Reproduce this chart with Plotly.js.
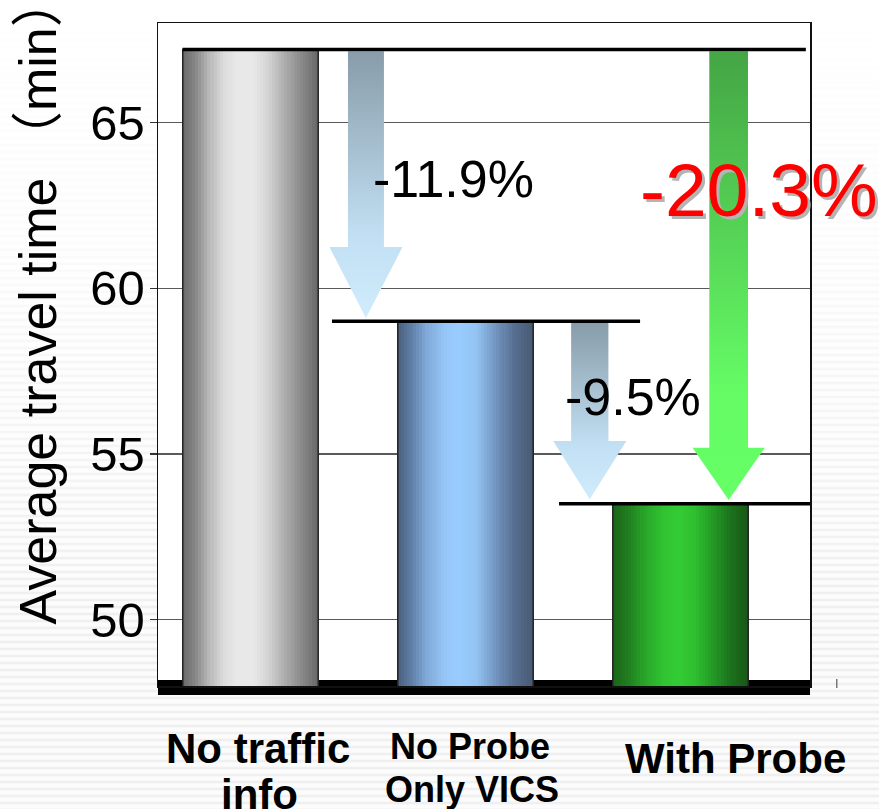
<!DOCTYPE html>
<html><head><meta charset="utf-8">
<script src="https://cdn.plot.ly/plotly-3.0.1.min.js"></script>
<style>
html,body{margin:0;padding:0;width:879px;height:809px;overflow:hidden;}
body{background:
 linear-gradient(180deg, rgba(255,255,255,1) 0%, rgba(255,255,255,0.75) 30%, rgba(255,255,255,0.1) 75%),
 repeating-linear-gradient(180deg,#fcfcfc 0px,#fcfcfc 3px,#e9e9e9 5px,#fcfcfc 7px);}
#chart{position:absolute;left:0;top:0;width:879px;height:809px;}
</style></head><body><div id="chart"></div>
<script>
// ---------- data ----------
const categoryLines = [["No traffic", "info"], ["No Probe", "Only VICS"], ["With Probe"]];
const travelTime = [67.2, 59.0, 53.5];           // average travel time (min)
const reductionLabels = ["-11.9%", "-9.5%", "-20.3%"];
const reductionFrom = [0, 1, 0];
const reductionTo = [1, 2, 2];
const yTicks = [50, 55, 60, 65];
const yTitle = "Average travel time （min）";

// ---------- style / layout constants ----------
const Y_RANGE = [48, 68];
const X_RANGE = [-0.4302, 2.6023];
const BAR_WIDTH = 0.63;
const N_STRIPS = 44;
const FONT = "Liberation Sans, Arial, Helvetica, sans-serif";
const barScales = [
  [[0,"#6a6a6a"],[0.1,"#8a8a8a"],[0.2,"#bababa"],[0.3,"#dcdcdc"],[0.4,"#e8e8e8"],[0.52,"#e8e8e8"],[0.62,"#d6d6d6"],[0.72,"#b8b8b8"],[0.82,"#999999"],[0.92,"#7e7e7e"],[1,"#686868"]],
  [[0,"#4a5f7d"],[0.1,"#5f7ea6"],[0.22,"#82abdb"],[0.35,"#96c6f7"],[0.45,"#99ccff"],[0.58,"#93c3f3"],[0.72,"#7496c2"],[0.86,"#566e90"],[1,"#485a74"]],
  [[0,"#1a641a"],[0.12,"#217f21"],[0.25,"#2aaa2a"],[0.38,"#31c431"],[0.48,"#33cc33"],[0.6,"#30c030"],[0.74,"#249a26"],[0.88,"#1b6f1b"],[1,"#185818"]]
];
const arrowGeom = [ // centre x, shaft half width, head half width, head length (y units), tip gap
  {xc:0.537, sh:0.0837, hh:0.170, hl:2.14, gap:0.10},
  {xc:1.578, sh:0.0867, hh:0.170, hl:1.76, gap:0.13},
  {xc:2.224, sh:0.0900, hh:0.168, hl:1.58, gap:0.11}
];
const arrowScales = [
  [[0,"#d0ecfc"],[0.3,"#c2e0f4"],[1,"#889ca9"]],
  [[0,"#d0ecfc"],[0.3,"#c2e0f4"],[1,"#889ca9"]],
  [[0,"#66ff66"],[0.25,"#65fb65"],[1,"#44a544"]]
];
const levelExtent = [[-0.316, 2.583], [0.379, 1.812], [1.435, 2.61]];
const pctPos = [[0.944, 63.30, 52, "#000000"], [1.777, 56.73, 52, "#000000"], [2.365, 62.95, 75, "#ff0000"]];
const labelPos = [ // x (data), y (paper), size per line
  [[0.0326,-0.0950,42],[0.0419,-0.1637,42]],
  [[1.021,-0.0905,36],[1.028,-0.1561,36]],
  [[2.258,-0.1086,42]]
];

function hexToRgb(h){const n=parseInt(h.slice(1),16);return [(n>>16)&255,(n>>8)&255,n&255];}
function sampleScale(scale,t){
  for(let k=1;k<scale.length;k++){
    if(t<=scale[k][0]){
      const t0=scale[k-1][0], t1=scale[k][0];
      const a=hexToRgb(scale[k-1][1]), b=hexToRgb(scale[k][1]);
      const f=(t-t0)/(t1-t0);
      return "rgb("+a.map((v,j)=>Math.round(v+(b[j]-v)*f)).join(",")+")";
    }
  }
  return scale[scale.length-1][1];
}

const traces = [];
// gradient-filled bars (vertical strips)
travelTime.forEach((v,i)=>{
  const sw = BAR_WIDTH/N_STRIPS, xs=[], ys=[], cs=[];
  for(let k=0;k<N_STRIPS;k++){
    xs.push(i - BAR_WIDTH/2 + (k+0.5)*sw);
    ys.push(v);
    cs.push(sampleScale(barScales[i],(k+0.5)/N_STRIPS));
  }
  traces.push({type:"bar", x:xs, y:ys, width:sw, marker:{color:cs, line:{width:0}},
    hoverinfo:"skip", showlegend:false});
});
// bar outlines (the data bars)
traces.push({type:"bar", x:[0,1,2], y:travelTime, width:BAR_WIDTH,
  hovertext:categoryLines.map(l=>l.join(" ")), textposition:"none",
  marker:{color:"rgba(0,0,0,0)", line:{color:"#222222", width:1.5}}, showlegend:false});
// reduction arrows
reductionFrom.forEach((f,j)=>{
  const g=arrowGeom[j], top=travelTime[f]-0.05, tip=travelTime[reductionTo[j]]+g.gap, hb=tip+g.hl;
  traces.push({type:"scatter", mode:"lines", fill:"toself",
    x:[g.xc-g.sh,g.xc+g.sh,g.xc+g.sh,g.xc+g.hh,g.xc,g.xc-g.hh,g.xc-g.sh,g.xc-g.sh],
    y:[top,top,hb,hb,tip,hb,hb,top],
    line:{width:0,color:"rgba(0,0,0,0)"},
    fillcolor:arrowScales[j][1][1],
    fillgradient:{type:"vertical", colorscale:arrowScales[j]},
    hoverinfo:"skip", showlegend:false});
});
// level lines at bar tops
travelTime.forEach((v,i)=>{
  traces.push({type:"scatter", mode:"lines", x:levelExtent[i], y:[v,v],
    line:{color:"#000000", width:3.5}, hoverinfo:"skip", showlegend:false});
});

const annotations = [];
// y title
annotations.push({xref:"paper", yref:"paper", x:-0.1833, y:0.5822, xanchor:"center", yanchor:"middle",
  text:yTitle, textangle:-90, showarrow:false,
  font:{family:"Liberation Sans, Noto Sans CJK JP, sans-serif", size:52, color:"#000"}});
// percent labels
reductionLabels.forEach((t,j)=>{
  const p=pctPos[j];
  if(j===2){
    annotations.push({xref:"x", yref:"y", x:p[0], y:p[1], text:t, showarrow:false, xshift:3, yshift:-3,
      xanchor:"center", yanchor:"middle", font:{family:FONT, size:p[2], color:"#b4b4b4"}});
  }
  annotations.push({xref:"x", yref:"y", x:p[0], y:p[1], text:t, showarrow:false,
    xanchor:"center", yanchor:"middle", font:{family:FONT, size:p[2], color:p[3]}});
});
// category labels
categoryLines.forEach((lines,i)=>{
  lines.forEach((ln,k)=>{
    const p=labelPos[i][k];
    annotations.push({xref:"x", yref:"paper", x:p[0], y:p[1], text:ln, showarrow:false,
      xanchor:"center", yanchor:"middle", font:{family:FONT, size:p[2], color:"#000", weight:"bold"}});
  });
});

const layout = {
  width:879, height:809,
  margin:{l:158, r:69, t:23, b:123, pad:0},
  paper_bgcolor:"rgba(0,0,0,0)", plot_bgcolor:"rgba(0,0,0,0)",
  barmode:"overlay", bargap:0, bargroupgap:0,
  showlegend:false, hovermode:false,
  xaxis:{range:X_RANGE, showticklabels:false, showgrid:false, zeroline:false, ticks:"",
    showline:true, mirror:true, linecolor:"#111", linewidth:1.5, fixedrange:true},
  yaxis:{range:Y_RANGE, tickvals:yTicks, ticktext:yTicks.map(String), showgrid:true, gridcolor:"#5a5a5a", gridwidth:1.2,
    zeroline:false, showline:true, mirror:true, linecolor:"#111", linewidth:1.5,
    ticks:"outside", ticklen:7, tickwidth:1.2, tickcolor:"#333", ticklabelstandoff:-5,
    tickfont:{family:FONT, size:49, color:"#000"}, fixedrange:true},
  shapes:[
    {type:"rect", xref:"paper", yref:"paper", x0:0, x1:1, y0:0, y1:1, fillcolor:"#ffffff", line:{width:0}, layer:"below"},
    {type:"rect", xref:"paper", yref:"paper", x0:0, x1:1, y0:-0.01357, y1:0.00905, fillcolor:"#000000", line:{width:0}, layer:"below"},
    {type:"line", xref:"paper", yref:"paper", x0:1.041, x1:1.041, y0:0.0106, y1:-0.003, line:{color:"#777", width:1.5}}
  ],
  annotations:annotations
};
Plotly.newPlot("chart", traces, layout, {displayModeBar:false, staticPlot:true});
</script></body></html>
